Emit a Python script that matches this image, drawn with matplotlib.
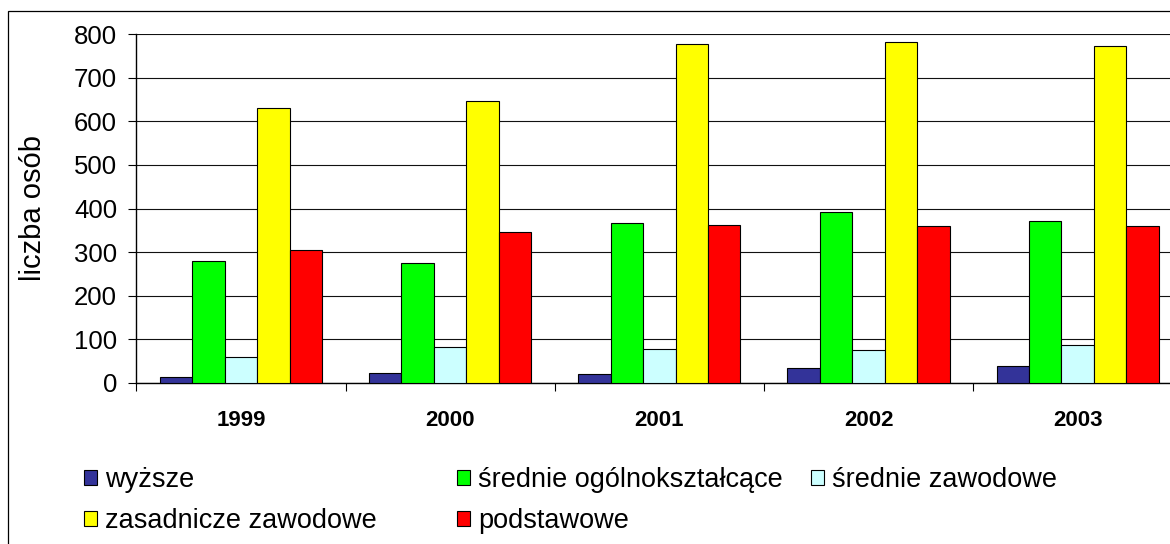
import matplotlib
matplotlib.use("Agg")
import matplotlib.pyplot as plt
import numpy as np
from matplotlib.patches import Rectangle

plt.rcParams['font.family'] = ['Liberation Sans', 'DejaVu Sans']

years = ['1999', '2000', '2001', '2002', '2003']
series_names = ['wyższe', 'średnie ogólnokształcące', 'średnie zawodowe',
                'zasadnicze zawodowe', 'podstawowe']
wyzsze = [13, 22, 21, 34, 39]
srednie_ogolne = [280, 275, 367, 393, 372]
srednie_zawodowe = [60, 83, 78, 74, 87]
zasadnicze = [630, 647, 778, 782, 774]
podstawowe = [305, 346, 362, 359, 359]
colors = ['#333399', '#00FF00', '#CCFFFF', '#FFFF00', '#FF0000']
yticks = [0, 100, 200, 300, 400, 500, 600, 700, 800]

W, H = 1170, 544
fig = plt.figure(figsize=(W / 100, H / 100), dpi=100)
ax_left, ax_right, ax_top, ax_bot = 136.3, 1182.3, 34.3, 382.7
ax = fig.add_axes([ax_left / W, 1 - ax_bot / H, (ax_right - ax_left) / W, (ax_bot - ax_top) / H])

data = [wyzsze, srednie_ogolne, srednie_zawodowe, zasadnicze, podstawowe]
x = np.arange(len(years))
bw = 0.155
bars = []
for i, (vals, c, name) in enumerate(zip(data, colors, series_names)):
    b = ax.bar(x + (i - 2) * bw, vals, width=bw, color=c, edgecolor='black',
               linewidth=0.8, label=name, zorder=3)
    bars.append(b)

ax.set_xlim(-0.5, len(years) - 0.5)
ax.set_ylim(0, 800)
ax.set_yticks(yticks)
ax.yaxis.grid(True, color='#111111', linewidth=0.8, zorder=0)
ax.set_axisbelow(True)
for s in ['top', 'right']:
    ax.spines[s].set_visible(False)
for s in ['left', 'bottom']:
    ax.spines[s].set_linewidth(1.0)
    ax.spines[s].set_color('black')
ax.tick_params(axis='y', direction='out', length=5.8, width=0.8, labelsize=18.5, pad=8)

ax.set_xticks(np.arange(-0.5, len(years)), minor=False)
ax.set_xticklabels([])
ax.tick_params(axis='x', which='major', direction='out', length=5.8, width=0.8)
ax.set_xticks(x, minor=True)
ax.set_xticklabels(years, minor=True, fontsize=16, fontweight='bold')
ax.tick_params(axis='x', which='minor', length=0, pad=19.5)

fig.text(33 / W, 1 - 208 / H, 'liczba osób', rotation=90, ha='center', va='center', fontsize=21)

# frame around chart area
fig.add_artist(Rectangle((8 / W, -0.5), 2, 1 - 11 / H + 0.5, transform=fig.transFigure,
                         fill=False, edgecolor='black', linewidth=0.9))

cols = [[0, 3], [1, 4], [2]]
col_x = [84, 457, 811]
for cidx, xs in zip(cols, col_x):
    fig.legend([bars[i] for i in cidx], [series_names[i] for i in cidx],
               loc='upper left', bbox_to_anchor=(xs / W, 1 - 467 / H),
               frameon=False, fontsize=19.5, handlelength=0.48, handleheight=0.48,
               handletextpad=0.3, labelspacing=0.55, borderpad=0, borderaxespad=0)

fig.savefig('out.png', dpi=100)
